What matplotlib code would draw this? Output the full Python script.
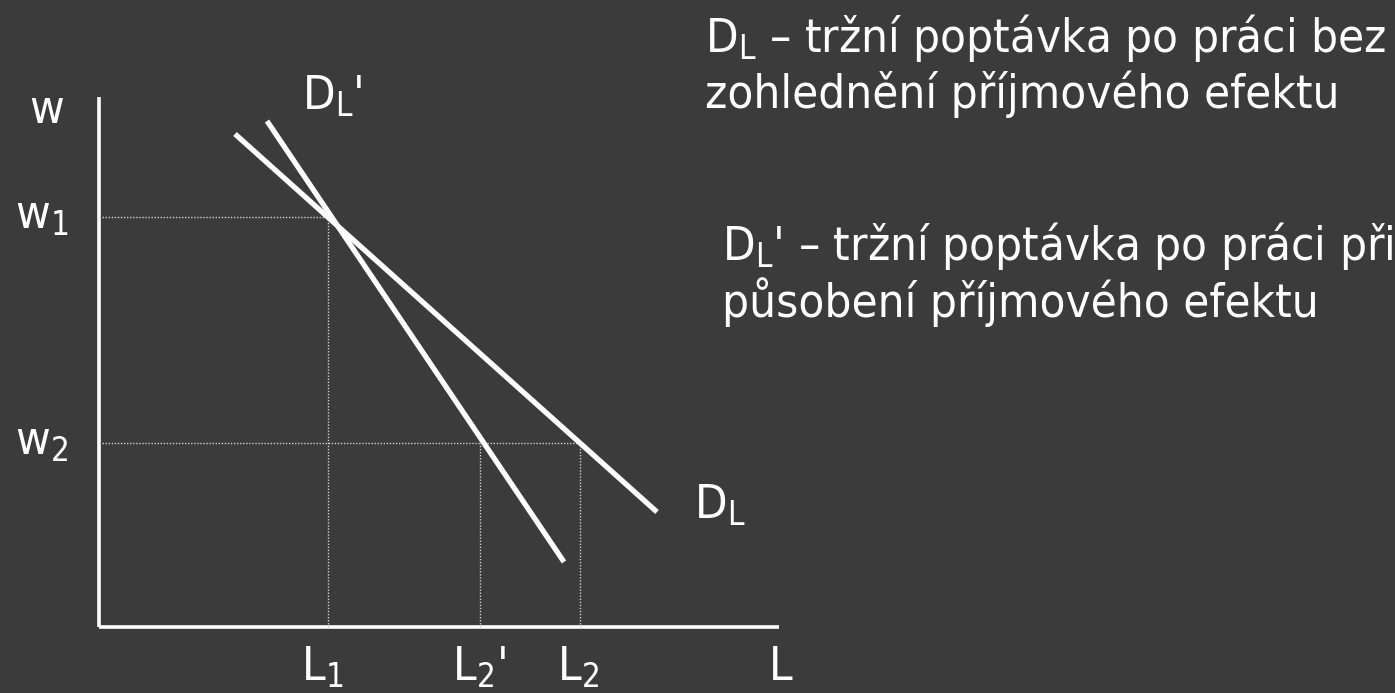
import matplotlib
matplotlib.use("Agg")
import matplotlib.pyplot as plt

# Colori
SFONDO = '#3b3b3b'
BIANCO = 'white'
PUNTINI = '#d0d0d0'

# Dati (unità arbitrarie, origine nell'angolo degli assi)
L_MAX = 6.80
W_MAX = 5.30
L_VALORI = [2.29, 3.81, 4.81]          # L1, L2', L2
W_VALORI = [4.10, 1.84]                # w1, w2
D_L_X = [1.36, 5.58]
D_L_Y = [4.93, 1.15]
D_L1_X = [1.68, 4.65]
D_L1_Y = [5.06, 0.65]

ETICHETTE_L = [r'$\mathregular{L_1}$', r"$\mathregular{L_2}$'", r'$\mathregular{L_2}$', 'L']
ETICHETTE_W = ['w', r'$\mathregular{w_1}$', r'$\mathregular{w_2}$']
RIGHE_DESTRA = [
    r"$\mathregular{D_L}$ – tržní poptávka po práci bez",
    "zohlednění příjmového efektu",
    r"$\mathregular{D_L}$' – tržní poptávka po práci při",
    "působení příjmového efektu",
]

plt.rcParams['font.family'] = ['DejaVu Sans']
plt.rcParams['mathtext.fontset'] = 'custom'
STRETCH = 'condensed'

fig = plt.figure(figsize=(13.95, 6.93), dpi=100, facecolor=SFONDO)
ax = fig.add_axes([99 / 1395, 66 / 693, 680 / 1395, 530 / 693])
ax.set_facecolor(SFONDO)
ax.set_xlim(0, L_MAX)
ax.set_ylim(0, W_MAX)
ax.axis('off')

# Assi
ax.plot([0, 0], [0, W_MAX], color=BIANCO, lw=2.6, solid_capstyle='butt', clip_on=False)
ax.plot([0, L_MAX], [0, 0], color=BIANCO, lw=2.6, solid_capstyle='butt', clip_on=False)

# Linee tratteggiate
L1, L2b, L2 = L_VALORI
w1, w2 = W_VALORI
stile = dict(color=PUNTINI, lw=1.0, ls=(0, (1, 1.2)), clip_on=False)
ax.plot([0, L1], [w1, w1], **stile)
ax.plot([L1, L1], [0, w1], **stile)
ax.plot([0, L2], [w2, w2], **stile)
ax.plot([L2b, L2b], [0, w2], **stile)
ax.plot([L2, L2], [0, w2], **stile)

# Curve di domanda
ax.plot(D_L_X, D_L_Y, color=BIANCO, lw=3.8, solid_capstyle='butt', clip_on=False)
ax.plot(D_L1_X, D_L1_Y, color=BIANCO, lw=3.8, solid_capstyle='butt', clip_on=False)

# Etichette
fs = 34
kw = dict(color=BIANCO, fontsize=fs, va='baseline', ha='left', fontstretch=STRETCH, clip_on=False)
ax.text(-0.52, 5.04, ETICHETTE_W[0], **dict(kw, ha='center'))
ax.text(-0.84, 3.98, ETICHETTE_W[1], **kw)
ax.text(-0.84, 1.72, ETICHETTE_W[2], **kw)

pos_x = [2.02, 3.53, 4.58, 6.70]
for x, t in zip(pos_x, ETICHETTE_L):
    ax.text(x, -0.53, t, **kw)

ax.text(5.95, 1.09, r'$\mathregular{D_L}$', **kw)
ax.text(2.03, 5.17, r"$\mathregular{D_L}$'", **kw)

# Testo a destra, una riga alla volta
righe_x = [705, 705, 722, 722]
righe_y = [52, 108, 260, 317]
for x, y, t in zip(righe_x, righe_y, RIGHE_DESTRA):
    fig.text(x / 1395, 1 - y / 693, t, color=BIANCO, fontsize=fs,
             va='baseline', ha='left', fontstretch=STRETCH)

fig.savefig('out.png', dpi=100, facecolor=SFONDO)
